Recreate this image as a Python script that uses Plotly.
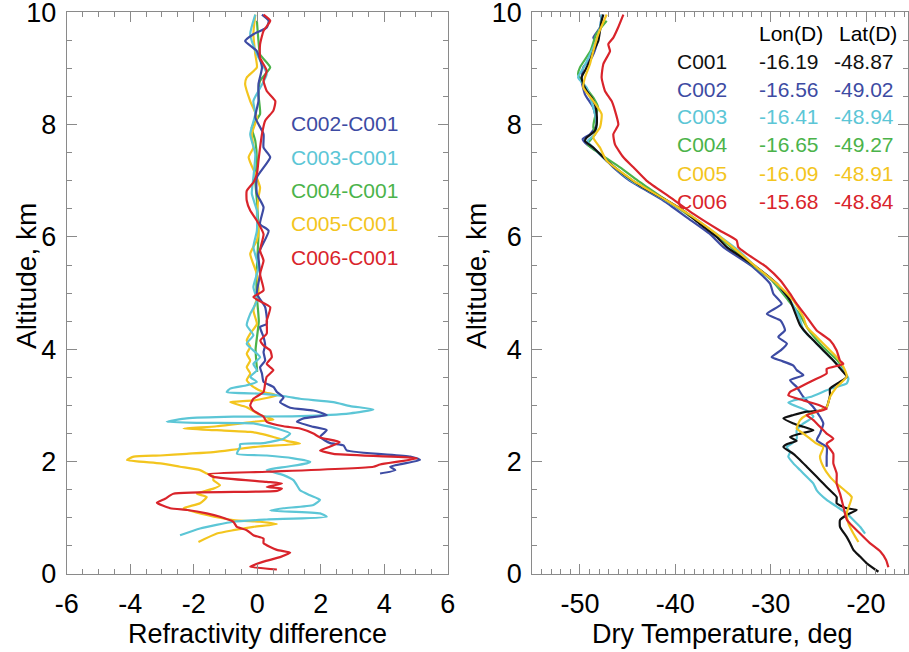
import plotly.graph_objects as go

# ---------------- data: left panel (refractivity difference vs altitude) ----------------
c002_dn_y = [1.79, 1.85, 1.91, 2.03, 2.09, 2.20, 2.29, 2.33, 2.44, 2.56, 2.62, 2.71, 2.77, 2.83, 2.91, 2.96, 3.06, 3.14, 3.24, 3.33, 3.42, 3.57, 3.68, 3.80, 3.95, 4.07, 4.22, 4.40, 4.45, 4.75, 4.99, 5.34, 5.70, 6.11, 6.23, 6.53, 6.77, 7.06, 7.42, 7.59, 7.83, 8.13, 8.42, 8.72, 9.02, 9.31, 9.49, 9.61, 9.73, 9.85, 9.96]
c002_dn_x = [3.87, 4.35, 4.19, 5.13, 4.82, 2.82, 2.72, 2.30, 1.98, 2.19, 1.77, 1.25, 1.46, 2.19, 1.77, 1.04, 0.72, 0.83, 0.62, 0.51, 0.20, 0.15, 0.09, 0.25, 0.20, 0.25, 0.20, 0.09, 0.30, 0.25, -0.01, 0.09, 0.04, 0.36, 0.09, 0.20, -0.01, -0.01, 0.41, 0.20, 0.20, -0.06, 0.04, 0.04, 0.15, -0.01, -0.38, -0.12, 0.30, 0.36, 0.15]

c003_dn_y = [0.69, 0.81, 0.93, 0.97, 1.02, 1.08, 1.13, 1.17, 1.23, 1.32, 1.40, 1.49, 1.58, 1.67, 1.76, 1.85, 1.91, 1.97, 2.00, 2.06, 2.11, 2.14, 2.26, 2.31, 2.33, 2.41, 2.50, 2.59, 2.68, 2.69, 2.71, 2.77, 2.80, 2.81, 2.86, 2.93, 2.99, 3.06, 3.12, 3.16, 3.21, 3.24, 3.30, 3.36, 3.42, 3.51, 3.63, 3.74, 3.86, 3.98, 4.10, 4.25, 4.43, 4.63, 4.87, 5.11, 5.46, 5.82, 6.11, 6.47, 6.77, 7.06, 7.48, 7.83, 8.19, 8.42, 8.90, 9.25, 9.61, 9.96]
c003_dn_x = [-2.43, -1.80, -0.75, 0.30, 2.19, 1.98, 0.41, 0.83, 1.77, 1.98, 1.67, 1.35, 1.25, 1.14, 0.83, 0.30, 0.93, 1.56, 1.67, 1.14, 0.30, -0.64, -0.54, -0.54, 0.20, 0.83, 1.04, 0.62, -0.12, -1.80, -2.85, -2.22, -0.75, 1.35, 2.93, 3.66, 2.93, 2.40, 1.35, 0.93, 0.09, -0.96, -0.85, -0.33, -0.01, -0.22, -0.01, -0.12, 0.09, -0.12, -0.33, -0.12, -0.33, -0.22, -0.01, -0.12, 0.04, -0.12, -0.01, -0.01, -0.17, -0.12, -0.06, -0.22, -0.06, -0.12, 0.30, -0.01, -0.22, -0.06]

c004_dn_y = [3.60, 4.00, 4.50, 5.00, 5.46, 6.05, 6.65, 7.00, 7.36, 7.71, 7.95, 8.19, 8.54, 8.78, 9.02, 9.25, 9.49, 9.85]
c004_dn_x = [0.00, -0.05, 0.05, -0.02, -0.01, 0.04, -0.01, -0.06, -0.01, -0.06, -0.17, 0.09, 0.04, 0.09, 0.41, 0.09, 0.04, -0.01]

c005_dn_y = [0.57, 0.72, 0.78, 0.84, 0.89, 0.93, 0.96, 1.05, 1.17, 1.26, 1.37, 1.43, 1.52, 1.58, 1.67, 1.74, 1.79, 1.85, 1.91, 1.97, 2.03, 2.09, 2.11, 2.14, 2.17, 2.23, 2.27, 2.32, 2.37, 2.44, 2.50, 2.53, 2.56, 2.59, 2.63, 2.71, 2.75, 2.83, 2.97, 3.06, 3.09, 3.18, 3.24, 3.33, 3.45, 3.57, 3.68, 3.80, 3.92, 4.04, 4.16, 4.28, 4.45, 4.69, 4.99, 5.34, 5.70, 5.94, 6.11, 6.35, 6.71, 6.88, 7.12, 7.42, 7.59, 7.83, 8.13, 8.42, 8.72, 8.84, 9.02, 9.25, 9.61, 9.96]
c005_dn_x = [-1.85, -1.27, -0.75, -0.12, 0.62, 0.09, -0.75, -1.59, -2.32, -1.80, -1.59, -1.90, -1.38, -1.17, -1.38, -1.38, -1.59, -1.80, -2.43, -3.05, -4.10, -3.89, -3.05, -2.22, -1.38, -0.54, 0.09, 1.35, 0.93, 0.51, 0.09, -0.22, -1.27, -2.32, -1.27, -0.12, 0.51, 0.09, -0.33, -0.85, -0.12, 0.62, 0.20, -0.12, -0.33, -0.22, -0.33, -0.22, -0.33, -0.22, -0.33, -0.22, -0.01, -0.12, 0.04, -0.01, -0.22, -0.01, 0.04, -0.01, 0.04, 0.09, -0.06, -0.27, -0.12, -0.17, -0.01, -0.22, -0.38, -0.33, -0.01, -0.06, -0.12, -0.06]

c006_dn_y = [0.08, 0.13, 0.22, 0.30, 0.38, 0.43, 0.55, 0.63, 0.69, 0.78, 0.84, 0.93, 1.02, 1.08, 1.14, 1.17, 1.27, 1.34, 1.43, 1.48, 1.52, 1.55, 1.61, 1.64, 1.73, 1.78, 1.82, 1.91, 1.95, 2.06, 2.14, 2.20, 2.27, 2.35, 2.43, 2.50, 2.59, 2.63, 2.71, 2.80, 2.91, 3.00, 3.12, 3.24, 3.39, 3.51, 3.63, 3.74, 3.86, 3.98, 4.07, 4.16, 4.28, 4.51, 4.75, 4.93, 5.05, 5.34, 5.58, 5.76, 6.05, 6.29, 6.47, 6.65, 6.82, 6.97, 7.12, 7.36, 7.59, 7.83, 8.07, 8.25, 8.42, 8.60, 8.78, 8.96, 9.19, 9.43, 9.67, 9.85, 9.96]
c006_dn_x = [0.62, -0.22, 0.20, 0.72, 1.04, 0.62, 0.20, 0.20, -0.12, -0.33, -0.64, -0.75, -1.17, -1.59, -2.20, -2.74, -3.16, -2.90, -2.64, 0.62, 0.78, 0.30, 0.78, 0.30, -1.38, -1.54, 0.30, 3.66, 3.87, 5.03, 2.40, 1.98, 2.30, 2.60, 1.98, 1.77, 1.35, 0.83, 0.30, 0.20, -0.12, -0.22, -0.12, 0.20, 0.25, 0.30, 0.51, 0.30, 0.46, 0.41, 0.20, 0.10, 0.30, 0.30, 0.41, -0.12, 0.20, 0.09, 0.20, 0.09, 0.20, -0.01, -0.22, -0.33, -0.33, -0.12, -0.01, 0.04, 0.09, 0.15, 0.25, 0.51, 0.57, 0.30, 0.20, 0.30, 0.09, 0.09, 0.20, 0.41, 0.20]

# ---------------- data: right panel (dry temperature vs altitude) ----------------
c001_t_y = [0.04, 0.19, 0.31, 0.43, 0.55, 0.66, 0.84, 0.96, 1.05, 1.14, 1.17, 1.26, 1.37, 1.49, 1.61, 1.73, 1.91, 2.03, 2.14, 2.26, 2.31, 2.37, 2.44, 2.50, 2.56, 2.62, 2.68, 2.77, 2.83, 2.89, 2.91, 2.97, 3.06, 3.18, 3.30, 3.42, 3.51, 3.66, 3.80, 3.92, 4.04, 4.16, 4.28, 4.43, 4.87, 5.17, 5.46, 5.82, 6.00, 6.23, 6.47, 6.65, 6.88, 7.12, 7.36, 7.59, 7.71, 7.77, 7.89, 8.00, 8.19, 8.36, 8.48, 8.60, 8.72, 8.84, 8.96, 9.14, 9.31, 9.49, 9.67, 9.85, 9.96]
c001_t_x = [-18.70, -19.93, -20.63, -21.33, -21.68, -22.03, -22.73, -22.73, -22.03, -20.98, -22.03, -23.08, -23.08, -23.78, -24.48, -25.17, -26.22, -26.92, -27.62, -28.67, -28.32, -27.27, -27.97, -26.92, -25.52, -26.57, -27.62, -28.67, -27.62, -26.22, -24.83, -24.13, -23.95, -23.78, -23.78, -22.73, -22.03, -22.73, -23.43, -24.13, -24.83, -25.52, -26.22, -26.92, -27.97, -29.37, -31.47, -34.60, -35.66, -37.40, -39.16, -40.90, -43.36, -45.45, -47.20, -48.60, -49.48, -49.30, -48.43, -48.25, -48.25, -48.43, -48.78, -49.30, -49.65, -49.83, -49.48, -48.95, -48.60, -48.08, -47.90, -47.73, -47.55]

c002_t_y = [1.91, 2.09, 2.26, 2.38, 2.50, 2.68, 2.80, 2.97, 3.15, 3.33, 3.45, 3.54, 3.63, 3.71, 3.80, 3.86, 3.98, 4.10, 4.22, 4.34, 4.51, 4.63, 4.81, 4.99, 5.17, 5.46, 5.82, 6.05, 6.35, 6.65, 7.00, 7.24, 7.53, 7.65, 7.74, 7.83, 8.00, 8.30, 8.54, 8.78, 9.02, 9.19, 9.43, 9.55, 9.73, 9.96]
c002_t_x = [-24.13, -24.13, -24.13, -25.17, -24.83, -24.48, -24.83, -25.52, -26.57, -27.27, -27.97, -26.57, -27.27, -27.62, -28.95, -29.90, -28.95, -28.30, -29.20, -28.50, -28.95, -30.40, -28.85, -29.72, -30.07, -31.82, -34.97, -36.36, -38.81, -41.26, -44.76, -46.50, -48.25, -49.30, -49.72, -48.95, -48.25, -48.60, -49.48, -49.83, -49.65, -48.78, -48.25, -48.60, -47.90, -47.73]

c003_t_y = [0.72, 0.84, 0.96, 1.08, 1.20, 1.32, 1.49, 1.61, 1.73, 1.85, 1.97, 2.09, 2.17, 2.26, 2.32, 2.41, 2.56, 2.68, 2.80, 2.91, 3.05, 3.09, 3.15, 3.27, 3.33, 3.39, 3.48, 3.63, 3.80, 3.98, 4.16, 4.34, 4.57, 4.87, 5.17, 5.46, 5.76, 6.05, 6.35, 6.65, 7.00, 7.36, 7.59, 7.71, 7.83, 8.00, 8.19, 8.42, 8.66, 8.84, 9.02, 9.25, 9.49, 9.73, 9.96]
c003_t_x = [-20.10, -20.63, -21.33, -22.03, -23.08, -24.13, -25.17, -25.52, -26.22, -26.92, -27.62, -28.15, -27.97, -28.32, -27.80, -27.27, -27.27, -26.57, -25.52, -26.22, -28.15, -27.62, -25.87, -24.13, -23.08, -22.03, -21.85, -22.38, -23.43, -24.48, -25.52, -26.57, -27.00, -27.97, -29.40, -31.50, -33.40, -35.66, -38.10, -41.00, -44.60, -47.20, -48.60, -49.20, -48.40, -48.25, -48.43, -48.80, -49.30, -50.20, -49.60, -48.95, -48.30, -47.90, -47.70]

c004_t_y = [3.60, 3.80, 4.04, 4.34, 4.63, 4.87, 5.23, 5.58, 5.94, 6.29, 6.65, 7.00, 7.24, 7.48, 7.65, 7.83, 7.95, 8.13, 8.30, 8.48, 8.72, 8.90, 9.02, 9.31, 9.61, 9.85]
c004_t_x = [-22.20, -23.00, -24.50, -26.00, -27.00, -28.15, -29.90, -32.50, -35.00, -37.80, -40.90, -43.90, -45.80, -47.90, -49.20, -48.43, -48.60, -48.43, -48.10, -48.60, -49.65, -50.20, -50.00, -48.90, -48.30, -47.20]

c005_t_y = [0.57, 0.72, 0.90, 1.08, 1.37, 1.46, 1.61, 1.73, 1.91, 2.09, 2.26, 2.32, 2.41, 2.50, 2.59, 2.74, 2.83, 2.89, 2.97, 3.15, 3.33, 3.51, 3.69, 3.86, 4.04, 4.22, 4.40, 4.57, 4.87, 5.17, 5.46, 5.76, 6.05, 6.35, 6.65, 7.00, 7.36, 7.59, 7.77, 7.95, 8.19, 8.42, 8.66, 8.84, 9.08, 9.31, 9.61, 9.96]
c005_t_x = [-20.80, -21.33, -21.85, -22.03, -21.50, -22.03, -23.08, -23.78, -24.48, -24.83, -24.48, -25.17, -25.87, -26.57, -27.27, -26.92, -26.22, -25.17, -24.13, -23.78, -23.08, -22.03, -22.38, -23.08, -24.13, -25.17, -26.22, -26.57, -27.62, -29.37, -31.47, -33.57, -35.66, -38.10, -40.90, -44.40, -47.20, -47.90, -48.60, -47.90, -47.73, -48.60, -49.65, -49.48, -48.95, -48.60, -48.08, -47.20]

c006_t_y = [0.12, 0.25, 0.40, 0.55, 0.72, 0.96, 1.20, 1.43, 1.61, 1.79, 1.97, 2.14, 2.32, 2.41, 2.50, 2.62, 2.74, 2.83, 2.89, 2.94, 3.00, 3.09, 3.18, 3.24, 3.33, 3.45, 3.57, 3.65, 3.74, 3.80, 3.98, 4.16, 4.34, 4.57, 4.81, 4.99, 5.23, 5.46, 5.70, 5.82, 5.94, 6.11, 6.41, 6.71, 7.00, 7.24, 7.42, 7.65, 7.83, 8.00, 8.25, 8.42, 8.60, 8.84, 9.08, 9.31, 9.43, 9.55, 9.73, 9.96]
c006_t_x = [-17.66, -17.90, -18.50, -19.60, -20.63, -22.00, -22.38, -22.73, -23.08, -23.08, -23.43, -23.43, -24.13, -23.43, -24.13, -24.83, -25.52, -26.22, -25.17, -24.13, -24.83, -26.57, -28.15, -27.97, -26.92, -25.52, -24.13, -24.13, -22.38, -22.73, -23.08, -23.78, -25.20, -26.20, -27.27, -27.97, -29.00, -30.40, -32.50, -33.40, -33.57, -35.30, -38.10, -40.56, -43.00, -44.40, -45.45, -46.33, -46.50, -45.98, -46.33, -46.68, -47.38, -47.73, -47.55, -46.85, -47.03, -46.50, -46.00, -45.45]

# ---------------- labels ----------------
diff_names = ["C002-C001", "C003-C001", "C004-C001", "C005-C001", "C006-C001"]
stations = ["C001", "C002", "C003", "C004", "C005", "C006"]
lons = ["-16.19", "-16.56", "-16.41", "-16.65", "-16.09", "-15.68"]
lats = ["-48.87", "-49.02", "-48.94", "-49.27", "-48.91", "-48.84"]
left_xticks = [-6, -4, -2, 0, 2, 4, 6]
right_xticks = [-50, -40, -30, -20]
yticks = [0, 2, 4, 6, 8, 10]

# ---------------- style ----------------
BLACK = "#111111"
BLUE = "#3D4BA3"
CYAN = "#5CC6D6"
GREEN = "#4BB34A"
YELLOW = "#F3C51E"
RED = "#D9242B"
diff_colors = [BLUE, CYAN, GREEN, YELLOW, RED]
st_colors = [BLACK, BLUE, CYAN, GREEN, YELLOW, RED]
FONT = "Liberation Sans, Arial, Helvetica, sans-serif"
AX = "#8a8a8a"
W, H = 909, 652

fig = go.Figure()

left_series = [(c002_dn_x, c002_dn_y), (c003_dn_x, c003_dn_y), (c004_dn_x, c004_dn_y),
               (c005_dn_x, c005_dn_y), (c006_dn_x, c006_dn_y)]
draw_order_left = [2, 3, 1, 0, 4]
for i in draw_order_left:
    xs, ys = left_series[i]
    fig.add_trace(go.Scatter(x=xs, y=ys, mode="lines", xaxis="x", yaxis="y",
                             line=dict(color=diff_colors[i], width=2.2, shape="spline", smoothing=0.5),
                             name=diff_names[i], showlegend=False))

right_series = [(c001_t_x, c001_t_y), (c002_t_x, c002_t_y), (c003_t_x, c003_t_y),
                (c004_t_x, c004_t_y), (c005_t_x, c005_t_y), (c006_t_x, c006_t_y)]
draw_order_right = [1, 3, 2, 0, 4, 5]
for i in draw_order_right:
    xs, ys = right_series[i]
    fig.add_trace(go.Scatter(x=xs, y=ys, mode="lines", xaxis="x2", yaxis="y2",
                             line=dict(color=st_colors[i], width=2.2, shape="spline", smoothing=0.5),
                             name=stations[i], showlegend=False))

def px_x(p):
    return p / W

def px_y(p):
    return 1 - p / H

axis_common = dict(showline=True, linecolor=AX, linewidth=1, mirror="ticks",
                   ticks="inside", ticklen=10, tickwidth=1, tickcolor=AX,
                   showgrid=False, zeroline=False, ticklabeloverflow="allow",
                   tickfont=dict(family=FONT, size=27, color="black"))

ydom = [px_y(574), px_y(12.3)]
fig.update_layout(
    width=W, height=H, autosize=False,
    margin=dict(l=0, r=0, t=0, b=0, autoexpand=False),
    paper_bgcolor="white", plot_bgcolor="white",
    font=dict(family=FONT, color="black"),
    xaxis=dict(domain=[px_x(66.7), px_x(447.7)], range=[-6, 6], tickvals=left_xticks,
               ticktext=[str(v) for v in left_xticks], anchor="y",
               minor=dict(ticks="inside", ticklen=5, dtick=0.5, tick0=0, tickcolor=AX),
               ticklabelstandoff=6, **axis_common),
    yaxis=dict(domain=ydom, range=[0, 10], tickvals=yticks, ticktext=[str(v) for v in yticks],
               anchor="x",
               minor=dict(ticks="inside", ticklen=5, dtick=0.5, tick0=0, tickcolor=AX),
               ticklabelstandoff=4, **axis_common),
    xaxis2=dict(domain=[px_x(532.3), px_x(908)], range=[-55, -15.6], tickvals=right_xticks,
                ticktext=[str(v) for v in right_xticks], anchor="y2",
                minor=dict(ticks="inside", ticklen=5, dtick=1, tick0=0, tickcolor=AX),
                ticklabelstandoff=6, **axis_common),
    yaxis2=dict(domain=ydom, range=[0, 10], tickvals=yticks, ticktext=[str(v) for v in yticks],
                anchor="x2",
                minor=dict(ticks="inside", ticklen=5, dtick=0.5, tick0=0, tickcolor=AX),
                ticklabelstandoff=4, **axis_common),
)

ann = []
# axis titles
ann.append(dict(text="Refractivity difference", x=px_x(257), y=px_y(634), xanchor="center", yanchor="middle",
                font=dict(family=FONT, size=27, color="black")))
ann.append(dict(text="Dry Temperature, deg", x=px_x(722.6), y=px_y(634), xanchor="center", yanchor="middle",
                font=dict(family=FONT, size=27, color="black")))
ann.append(dict(text="Altitude, km", x=px_x(26), y=px_y(276), xanchor="center", yanchor="middle",
                textangle=-90, font=dict(family=FONT, size=28, color="black")))
ann.append(dict(text="Altitude, km", x=px_x(476), y=px_y(276), xanchor="center", yanchor="middle",
                textangle=-90, font=dict(family=FONT, size=28, color="black")))
# left legend
leg_rows = [123, 157, 190, 223, 257]
for i, name in enumerate(diff_names):
    ann.append(dict(text=name, x=px_x(289), y=px_y(leg_rows[i]), xanchor="left", yanchor="middle",
                    font=dict(family=FONT, size=21, color=diff_colors[i])))
# right table
ann.append(dict(text="Lon(D)", x=px_x(757), y=px_y(33), xanchor="left", yanchor="middle",
                font=dict(family=FONT, size=21, color="black")))
ann.append(dict(text="Lat(D)", x=px_x(837), y=px_y(33), xanchor="left", yanchor="middle",
                font=dict(family=FONT, size=21, color="black")))
tab_rows = [61, 89, 117, 145, 173, 201]
for i, st in enumerate(stations):
    c = st_colors[i]
    ann.append(dict(text=st, x=px_x(675), y=px_y(tab_rows[i]), xanchor="left", yanchor="middle",
                    font=dict(family=FONT, size=21, color=c)))
    ann.append(dict(text=lons[i], x=px_x(757), y=px_y(tab_rows[i]), xanchor="left", yanchor="middle",
                    font=dict(family=FONT, size=21, color=c)))
    ann.append(dict(text=lats[i], x=px_x(832), y=px_y(tab_rows[i]), xanchor="left", yanchor="middle",
                    font=dict(family=FONT, size=21, color=c)))

for a in ann:
    a.update(xref="paper", yref="paper", showarrow=False)
fig.update_layout(annotations=ann)

fig.write_html("out.html",
               post_script="document.body.style.margin='0';document.body.style.overflow='hidden';")
